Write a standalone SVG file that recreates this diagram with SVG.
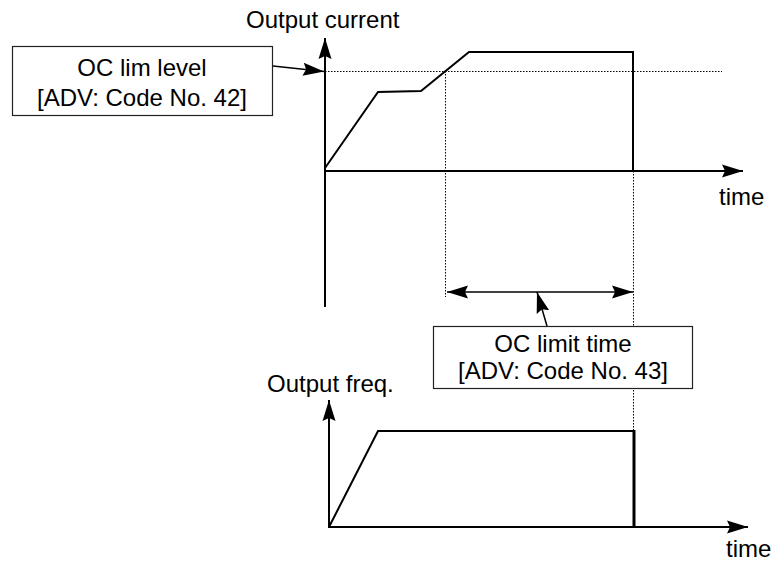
<svg xmlns="http://www.w3.org/2000/svg" width="773" height="561" viewBox="0 0 773 561">
<style>
  text { font-family: "Liberation Sans", Arial, sans-serif; font-size: 24px; fill: #000; }
  .ax { stroke: #000; stroke-width: 2; fill: none; }
  .curve { stroke: #000; stroke-width: 2; fill: none; stroke-linejoin: miter; }
  .dot { stroke: #000; stroke-width: 1; stroke-dasharray: 1.5 1.5; fill: none; }
  .box { fill: #fff; stroke: #222; stroke-width: 1.2; }
  .ptr { stroke: #000; stroke-width: 1.5; fill: none; }
</style>
<defs>
  <marker id="ah" viewBox="0 0 22 14" refX="21" refY="7" markerWidth="22" markerHeight="14" markerUnits="userSpaceOnUse" orient="auto-start-reverse">
    <path d="M0,0.5 L21,7 L0,13.5 L3,7 Z" fill="#000"/>
  </marker>
</defs>
<rect width="773" height="561" fill="#fff"/>
<g id="guides">
  <line class="dot" x1="325" y1="71.5" x2="722" y2="71.5"/>
  <line class="dot" x1="445.5" y1="71" x2="445.5" y2="297"/>
  <line class="dot" x1="633.5" y1="171" x2="633.5" y2="431"/>
</g>
<g id="top-graph">
  <line class="ax" x1="325" y1="307" x2="325" y2="38" marker-end="url(#ah)"/>
  <line class="ax" x1="325" y1="171" x2="743" y2="171" marker-end="url(#ah)"/>
  <polyline class="curve" points="325,168 378,92 421,91 469,52 633,52 633,171"/>
  <text x="246" y="28">Output current</text>
  <text x="719" y="205">time</text>
</g>
<g id="bottom-graph">
  <line class="ax" x1="329" y1="528" x2="329" y2="400" marker-end="url(#ah)"/>
  <line class="ax" x1="329" y1="527" x2="748" y2="527" marker-end="url(#ah)"/>
  <polyline class="curve" points="329,527 378,431 634,431"/>
  <line stroke="#000" stroke-width="3" x1="634" y1="430" x2="634" y2="528"/>
  <text x="267" y="392">Output freq.</text>
  <text x="726" y="557">time</text>
</g>
<g id="connectors">
  <line class="ptr" x1="273" y1="66" x2="324" y2="71.5" marker-end="url(#ah)"/>
  <line class="ptr" x1="447" y1="292" x2="633" y2="292" marker-start="url(#ah)" marker-end="url(#ah)"/>
  <line class="ptr" x1="547" y1="326" x2="537" y2="292" marker-end="url(#ah)"/>
</g>
<g id="oc-lim-level">
  <rect class="box" x="12.5" y="46.5" width="260" height="69"/>
  <text x="142" y="76" text-anchor="middle">OC lim level</text>
  <text x="142" y="106" text-anchor="middle">[ADV: Code No. 42]</text>
</g>
<g id="oc-limit-time">
  <rect class="box" x="433.5" y="326.5" width="259" height="62"/>
  <text x="563" y="352" text-anchor="middle">OC limit time</text>
  <text x="563" y="379" text-anchor="middle">[ADV: Code No. 43]</text>
</g>
</svg>
